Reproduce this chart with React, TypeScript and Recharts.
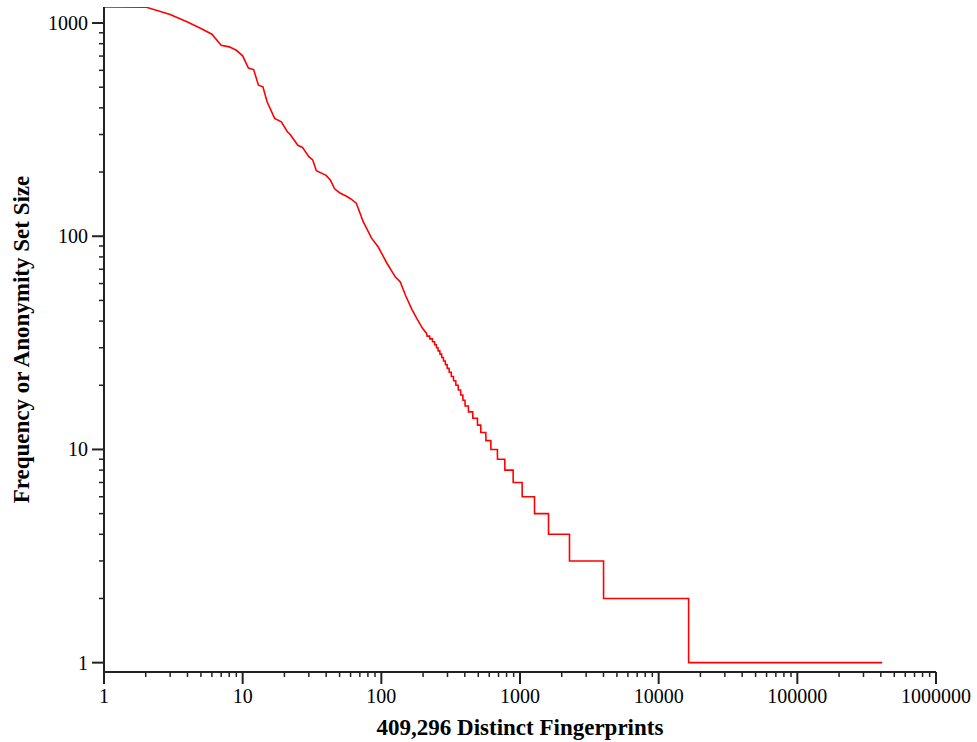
import { LineChart, Line, XAxis, YAxis } from 'recharts'

// smooth head of the rank/frequency curve
const TOP_RANKS = [1, 2, 3, 4, 5, 6, 7, 8, 9, 10, 11, 12, 13, 14, 15, 17, 19, 21, 22, 25, 27, 30, 32, 34, 40, 43, 46, 50, 56, 60, 66, 74, 85, 95, 110, 126, 137, 149, 166, 180, 198, 212]
const TOP_FREQS = [1189, 1188, 1096, 1012, 942, 886, 787, 773, 745, 702, 615, 605, 511, 502, 427, 357, 344, 309, 300, 267, 261, 236, 228, 203, 193, 183, 167, 160, 154, 150, 143, 117, 98, 89, 74.5, 64.5, 61, 53, 45.4, 41.2, 37, 35]

// staircase tail: frequency level and the rank where it starts
const STEP_FREQS = [34, 33, 32, 31, 30, 29, 28, 27, 26, 25, 24, 23, 22, 21, 20, 19, 18, 17, 16, 15, 14, 13, 12, 11, 10, 9, 8, 7, 6, 5, 4, 3, 2, 1]
const STEP_STARTS = [214, 224, 234, 243, 250, 257, 265, 273, 281, 290, 299, 309, 320, 332, 345, 359, 374, 388, 402, 425, 457, 494, 522, 568, 617, 688, 778, 893, 1037, 1273, 1606, 2275, 4005, 16441]
const LAST_RANK = 409296

const DECADES_X = [1, 10, 100, 1000, 10000, 100000]
const DECADES_Y = [1, 10, 100]
const MULTS = [1, 2, 3, 4, 5, 6, 7, 8, 9]

const X_TICKS = [...DECADES_X.flatMap((d) => MULTS.map((m) => d * m)), 1000000]
const Y_TICKS = [...DECADES_Y.flatMap((d) => MULTS.map((m) => d * m)), 1000]

const data: { rank: number; freq: number }[] = []
TOP_RANKS.forEach((r, i) => data.push({ rank: r, freq: TOP_FREQS[i] }))
STEP_STARTS.forEach((s, i) => {
  const end = i + 1 < STEP_STARTS.length ? STEP_STARTS[i + 1] - 1 : LAST_RANK
  data.push({ rank: s, freq: STEP_FREQS[i] })
  if (end > s) data.push({ rank: end, freq: STEP_FREQS[i] })
})

const FONT = '"Liberation Serif", "Times New Roman", serif'
const AXIS = '#222'

const isMajor = (v: number) => {
  const l = Math.log10(v)
  return Math.abs(l - Math.round(l)) < 1e-9
}

const XTick = ({ x, y, payload }: any) => {
  const major = isMajor(payload.value)
  return (
    <g>
      <line x1={x} x2={x} y1={y} y2={y + (major ? 12 : 5)} stroke={AXIS} strokeWidth={major ? 2 : 1.5} />
      {major && (
        <text x={x} y={y + 31} textAnchor="middle" fontFamily={FONT} fontSize={20} fill="#000">
          {payload.value}
        </text>
      )}
    </g>
  )
}

const YTick = ({ x, y, payload }: any) => {
  const major = isMajor(payload.value)
  return (
    <g>
      <line x1={x - (major ? 12 : 5)} x2={x} y1={y} y2={y} stroke={AXIS} strokeWidth={major ? 2 : 1.5} />
      {major && (
        <text x={x - 16} y={y} dy="0.35em" textAnchor="end" fontFamily={FONT} fontSize={20} fill="#000">
          {payload.value}
        </text>
      )}
    </g>
  )
}

export default function App() {
  return (
    <div style={{ position: 'absolute', left: 0, top: 0, background: '#fff' }}>
      <LineChart width={977} height={742} data={data} margin={{ top: 7, right: 41, bottom: 0, left: 0 }}>
        <XAxis
          dataKey="rank"
          type="number"
          scale="log"
          domain={[1, 1000000]}
          ticks={X_TICKS}
          interval={0}
          height={70}
          tickSize={0}
          tickMargin={0}
          tickLine={false}
          tick={<XTick />}
          axisLine={{ stroke: AXIS, strokeWidth: 2 }}
          label={{
            content: ({ viewBox }: any) => (
              <text
                x={viewBox.x + viewBox.width / 2}
                y={viewBox.y + 63}
                textAnchor="middle"
                fontFamily={FONT}
                fontSize={23}
                fontWeight="bold"
                fill="#000"
              >
                409,296 Distinct Fingerprints
              </text>
            ),
          }}
        />
        <YAxis
          type="number"
          scale="log"
          domain={[0.904, 1189]}
          allowDataOverflow
          ticks={Y_TICKS}
          interval={0}
          width={104}
          tickSize={0}
          tickMargin={0}
          tickLine={false}
          tick={<YTick />}
          axisLine={{ stroke: AXIS, strokeWidth: 2 }}
          label={{
            content: ({ viewBox }: any) => (
              <text
                transform={`translate(29, ${viewBox.y + viewBox.height / 2}) rotate(-90)`}
                textAnchor="middle"
                fontFamily={FONT}
                fontSize={23}
                fontWeight="bold"
                fill="#000"
              >
                Frequency or Anonymity Set Size
              </text>
            ),
          }}
        />
        <Line
          dataKey="freq"
          type="linear"
          stroke="#ff0000"
          strokeWidth={1.6}
          dot={false}
          isAnimationActive={false}
        />
      </LineChart>
    </div>
  )
}
